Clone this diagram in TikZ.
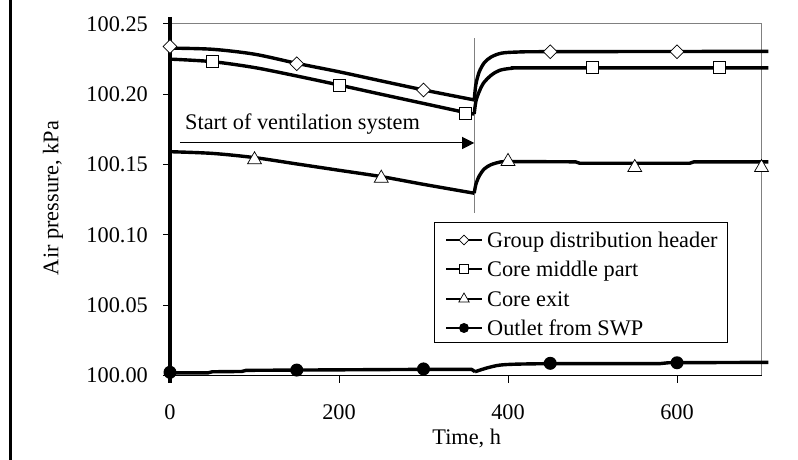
\documentclass[tikz,border=0pt]{standalone}
\usepackage{fontspec}
\setmainfont{Liberation Serif}
\usepackage{tikz}
\usetikzlibrary{shapes.geometric}
\usetikzlibrary{positioning, arrows.meta}

\tikzset{
  curve/.style={line width=3.4pt, line join=round},
  gdhmark/.style={diamond, draw, fill=white, inner sep=0pt, minimum size=14pt, line width=0.7pt},
  cmpmark/.style={rectangle, draw, fill=white, inner sep=0pt, minimum size=12pt, line width=0.7pt},
  cexmark/.style={regular polygon, regular polygon sides=3, draw, fill=white, inner sep=0pt, minimum size=16pt, line width=0.7pt},
  swpmark/.style={circle, fill=black, inner sep=0pt, minimum size=13pt},
  ticklabel/.style={inner sep=0pt}
}

\begin{document}
\begin{tikzpicture}[x=1pt, y=1pt, font=\fontsize{22.3pt}{27pt}\selectfont]
    \useasboundingbox (0,0) rectangle (798,460);

    % Frame
    \draw[line width=3pt] (10,0) -- (10,460);

    % Axis titles
    \node (ytitle) at (53,262) [rotate=90] {Air pressure, kPa};
    \node (xtitle) at (466.7,22) {Time, h};

    \begin{scope}[shift={(170,84.3)}, x=0.845pt, y=14.07pt]
        % Plot area
        \draw[gray, line width=1pt] (0,25) -- (700,25) -- (700,0);
        \draw[line width=1pt] (0,0) -- (700,0);
        \draw[line width=3.5pt] (0,25.5) -- ([yshift=-7pt]0,0);

        % Ticks
        \foreach \pv/\lab [count=\i] in {0/100.00, 5/100.05, 10/100.10, 15/100.15, 20/100.20, 25/100.25} {
            \draw[line width=1pt] (0,\pv) -- ++(-7pt,0);
            \node[ticklabel, anchor=east] (yt\i) at ([xshift=-22pt]0,\pv) {\lab};
        }
        \foreach \t [count=\i] in {0, 200, 400, 600} {
            \draw[line width=1pt] (\t,0) -- ++(0,-7pt);
            \node[ticklabel, anchor=north] (xt\i) at ([yshift=-29pt]\t,0) {\t};
        }

        % Start of ventilation
        \draw[gray, line width=1pt] (360,24) -- (360,11.56);
        \coordinate (astart) at (11.8,16.54);
        \coordinate (aend) at (360,16.54);
        \draw[line width=1pt, -{Triangle[length=12pt, width=12pt]}] (astart) -- (aend);
        \node[anchor=base west, inner sep=0pt] (start) at ([xshift=5pt, yshift=13pt]astart) {Start of ventilation system};

        % Group distribution header
        \draw[curve] plot[smooth, tension=0.5] coordinates {(0,23.28) (50,23.2) (100,22.85) (150,22.2) (200,21.6) (250,20.95) (300,20.31) (360,19.6)};
        \draw[curve] plot[smooth, tension=0.5] coordinates {(360,19.6) (362,20.7) (366,21.6) (372,22.25) (380,22.65) (392,22.92) (410,23.0) (450,23.03) (708,23.05)};

        % Core middle part
        \draw[curve] plot[smooth, tension=0.5] coordinates {(0,22.5) (50,22.32) (100,21.9) (150,21.3) (200,20.66) (250,20.0) (300,19.35) (350,18.7) (360,18.6)};
        \draw[curve] plot[smooth, tension=0.5] coordinates {(360,18.6) (362,19.5) (366,20.2) (371,20.8) (380,21.35) (390,21.7) (405,21.85) (430,21.88) (708,21.88)};

        % Core exit
        \draw[curve] plot[smooth, tension=0.5] coordinates {(0,15.92) (50,15.8) (100,15.5) (150,15.05) (200,14.6) (250,14.15) (300,13.6) (360,12.97)};
        \draw[curve] plot[smooth, tension=0.5] coordinates {(360,12.97) (362,13.6) (366,14.2) (372,14.7) (380,15.0) (392,15.2) (405,15.22)};
        \draw[curve] (405,15.22) -- (480,15.2) -- (485,15.1) -- (615,15.1) -- (620,15.2) -- (708,15.2);

        % Outlet from SWP
        \draw[curve] (0,0.2) -- (45,0.2) -- (50,0.28) -- (85,0.3) -- (90,0.38) -- (150,0.4) -- (300,0.45) -- (357,0.45) -- (361,0.28);
        \draw[curve] plot[smooth, tension=0.5] coordinates {(361,0.28) (375,0.55) (390,0.75) (410,0.82) (450,0.86)};
        \draw[curve] (450,0.86) -- (580,0.86) -- (590,0.92) -- (708,0.95);

        % Markers
        \foreach \t/\pv [count=\i] in {0/23.39, 150/22.17, 300/20.31, 450/23.03, 600/23.03}
            \node[gdhmark] (gdh\i) at (\t,\pv) {};
        \foreach \t/\pv [count=\i] in {50/22.32, 200/20.66, 350/18.65, 500/21.89, 650/21.89}
            \node[cmpmark] (cmp\i) at (\t,\pv) {};
        \foreach \t/\pv [count=\i] in {100/15.35, 250/14.04, 400/15.23, 550/14.8, 700/14.8}
            \node[cexmark] (cex\i) at (\t,\pv) {};
        \foreach \t/\pv [count=\i] in {0/0.24, 150/0.4, 300/0.48, 450/0.88, 600/0.92}
            \node[swpmark] (swp\i) at (\t,\pv) {};
    \end{scope}

    % Legend
    \node[draw, fill=white, line width=1pt, inner sep=0pt, minimum width=293pt, minimum height=119.6pt] (legend) at (580.5,177.5) {};
    \foreach \y/\m/\s/\txt [count=\i] in {220/gdhmark/10pt/Group distribution header, 191/cmpmark/9pt/Core middle part, 161/cexmark/12pt/Core exit, 132/swpmark/10pt/Outlet from SWP} {
        \draw[line width=2.6pt] (446,\y) -- (482,\y);
        \node[\m, minimum size=\s] (lm\i) at (464,\y) {};
        \node[anchor=base west, inner sep=0pt] (lt\i) at (487,\y-8) {\txt};
    }
\end{tikzpicture}
\end{document}
